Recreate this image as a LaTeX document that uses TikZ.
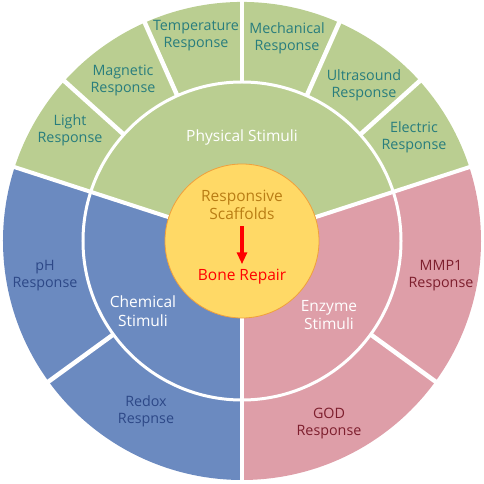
\documentclass[tikz,border=0pt]{standalone}
\usepackage{fontspec}
\setmainfont{Open Sans}
\usetikzlibrary{arrows.meta}

\definecolor{physgreen}{RGB}{186,206,145}
\definecolor{chemblue}{RGB}{107,138,192}
\definecolor{enzpink}{RGB}{222,158,168}
\definecolor{coreyellow}{RGB}{255,217,102}
\definecolor{coreline}{RGB}{240,160,60}
\definecolor{greentext}{RGB}{40,125,125}
\definecolor{bluetext}{RGB}{45,72,135}
\definecolor{pinktext}{RGB}{125,30,45}
\definecolor{scaftext}{RGB}{185,125,20}

\tikzset{
  outer/.style={align=center,font=\fontsize{14.3}{17}\selectfont,inner sep=1pt},
  inner/.style={align=center,font=\fontsize{15.5}{18.5}\selectfont,text=white,inner sep=1pt},
  gap/.style={white,line width=#1}
}

\begin{document}
\begin{tikzpicture}[x=1pt,y=1pt,>={Triangle[length=12pt,width=10pt]}]
        \useasboundingbox (-242,-243) rectangle (242,241);
        % the three sectors
        \fill[physgreen] (0,0) -- (18:239) arc[start angle=18,end angle=162,radius=239] -- cycle;
        \fill[chemblue] (0,0) -- (162:239) arc[start angle=162,end angle=270,radius=239] -- cycle;
        \fill[enzpink] (0,0) -- (270:239) arc[start angle=270,end angle=378,radius=239] -- cycle;
        % white gaps
        \draw[gap=3pt] (0,0) circle[radius=159];
        \foreach \a in {18,162,270}
          \draw[gap=4pt] (0,0) -- (\a:242);
        \foreach \a in {42,66,90,114,138,216,324}
          \draw[gap=4.5pt] (\a:159) -- (\a:242);
        % core
        \node[draw=coreline,fill=coreyellow,circle,minimum size=154pt,line width=0.8pt] (core) at (0,0) {};
        \node[inner,text=scaftext] (scaf) at (0,36) {Responsive\\Scaffolds};
        \node[inner,text=red] (bone) at (0,-36) {Bone Repair};
        \draw[->,red,line width=3.5pt,shorten <=5pt,shorten >=4pt] (scaf.south) -- (bone.north);
        % stimuli
        \node[inner] (phys) at (0,104) {Physical Stimuli};
        \node[inner] (chem) at (-99,-70) {Chemical\\Stimuli};
        \node[inner] (enz) at (87,-74) {Enzyme\\Stimuli};
        % responses
        \node[outer,text=greentext] (light) at (-172,111) {Light\\Response};
        \node[outer,text=greentext] (magn) at (-119,161) {Magnetic\\Response};
        \node[outer,text=greentext] (temp) at (-46,205) {Temperature\\Response};
        \node[outer,text=greentext] (mech) at (45,203) {Mechanical\\Response};
        \node[outer,text=greentext] (ultra) at (122,156) {Ultrasound\\Response};
        \node[outer,text=greentext] (elec) at (172,104) {Electric\\Response};
        \node[outer,text=bluetext] (ph) at (-197,-35) {pH\\Response};
        \node[outer,text=bluetext] (redox) at (-96,-170) {Redox\\Respnse};
        \node[outer,text=pinktext] (mmp) at (199,-35) {MMP1\\Response};
        \node[outer,text=pinktext] (god) at (87,-183) {GOD\\Response};
      \end{tikzpicture}
\end{document}
